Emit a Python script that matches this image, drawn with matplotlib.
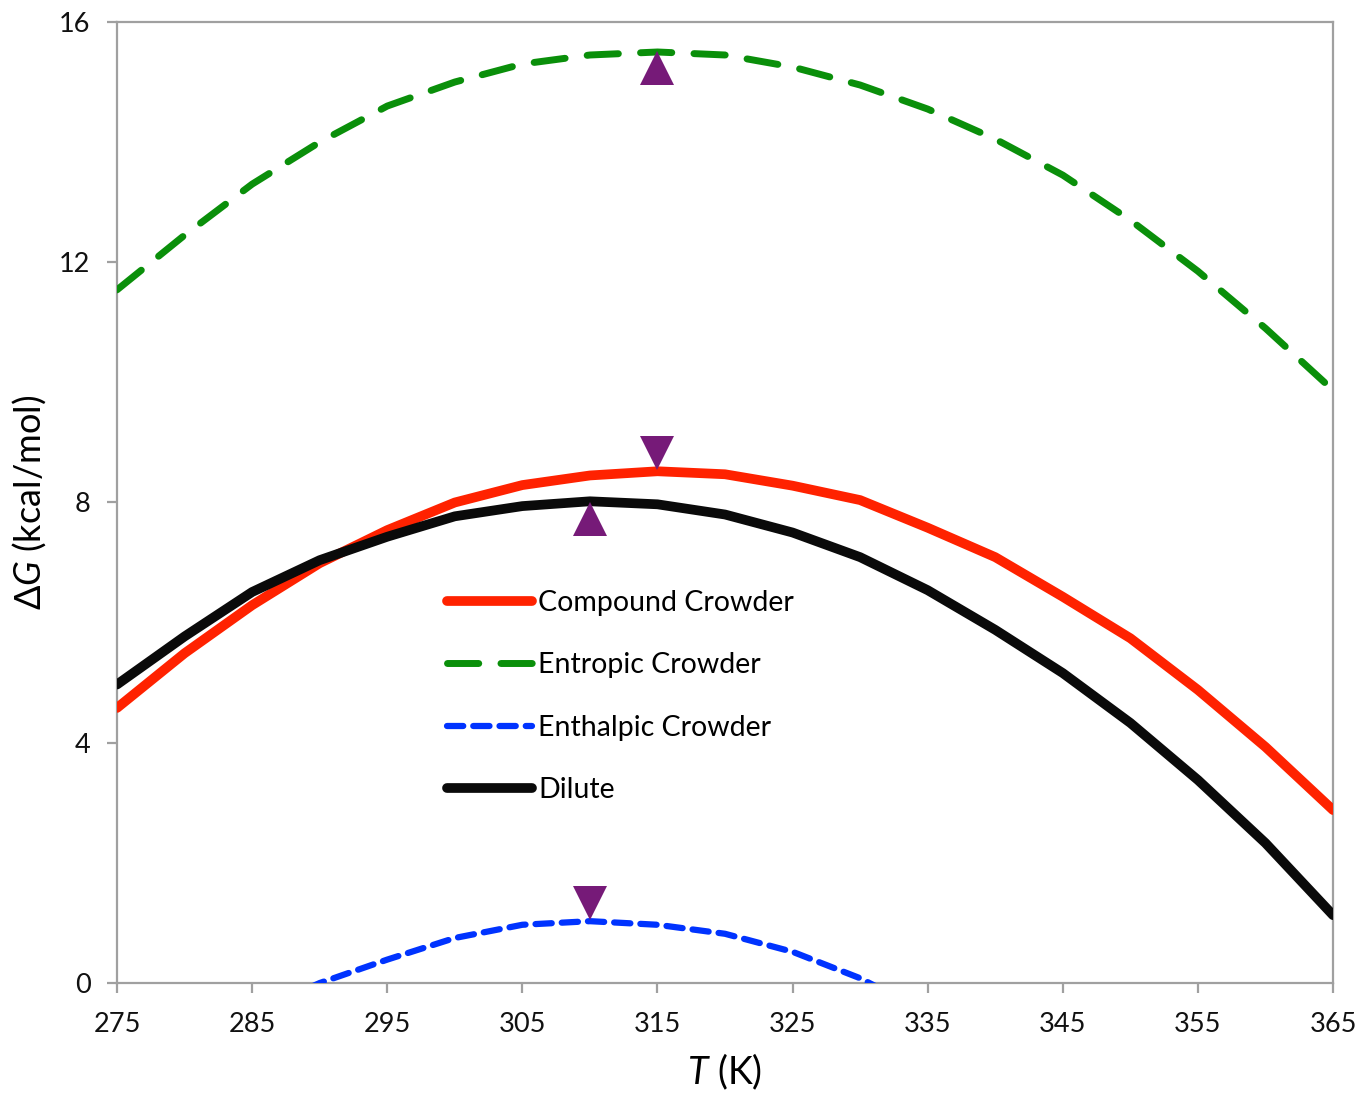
import numpy as np
import matplotlib
matplotlib.use("Agg")
import matplotlib.pyplot as plt

# temperatures (K)
temps = [275, 280, 285, 290, 295, 300, 305, 310, 315, 320,
         325, 330, 335, 340, 345, 350, 355, 360, 365]

# dG (kcal/mol)
compound = [4.58, 5.49, 6.29, 6.99, 7.54, 8.0, 8.29, 8.45, 8.52, 8.47,
            8.28, 8.04, 7.58, 7.09, 6.43, 5.74, 4.88, 3.93, 2.88]
entropic = [11.54, 12.45, 13.3, 14.0, 14.6, 15.0, 15.3, 15.45, 15.5, 15.45,
            15.25, 14.95, 14.55, 14.05, 13.45, 12.7, 11.85, 10.9, 9.87]
enthalpic = [-1.5, -1.0, -0.5, 0.0, 0.39, 0.75, 0.97, 1.03, 0.97, 0.82,
             0.52, 0.08, -0.5, -1.1, -1.8, -2.6, -3.5, -4.5, -5.6]
dilute = [4.97, 5.77, 6.51, 7.04, 7.43, 7.77, 7.94, 8.02, 7.97, 7.8,
          7.5, 7.09, 6.54, 5.88, 5.16, 4.33, 3.38, 2.33, 1.13]

# maxima markers
up_T = [315, 310]
up_G = [15.23, 7.72]
down_T = [315, 310]
down_G = [8.82, 1.33]

labels = ["Compound Crowder", "Entropic Crowder", "Enthalpic Crowder", "Dilute"]

plt.rcParams["font.family"] = ["Lato", "DejaVu Sans"]
plt.rcParams["mathtext.fontset"] = "custom"
plt.rcParams["mathtext.rm"] = "Lato"
plt.rcParams["mathtext.it"] = "Lato:italic"

fig = plt.figure(figsize=(13.59, 10.98), dpi=100)
ax = fig.add_axes([0.0861, 0.1047, 0.8948, 0.8753])

ax.plot(temps, compound, color="#ff2200", lw=7, solid_capstyle="round",
        label=labels[0], zorder=3)
ax.plot(temps, entropic, color="#0a8f0a", lw=5, dashes=(4.5, 3.2),
        dash_capstyle="round", label=labels[1], zorder=3)
ax.plot(temps, enthalpic, color="#0033ff", lw=4.5, dashes=(2.6, 1.6),
        dash_capstyle="round", label=labels[2], zorder=3)
ax.plot(temps, dilute, color="#0a0a0a", lw=7, solid_capstyle="round",
        label=labels[3], zorder=3)

ax.plot(up_T, up_G, linestyle="none", marker="^", ms=24, color="#761a78",
        markeredgewidth=0, zorder=4)
ax.plot(down_T, down_G, linestyle="none", marker="v", ms=24, color="#761a78",
        markeredgewidth=0, zorder=4)

ax.set_xlim(275, 365)
ax.set_ylim(0, 16)
ax.set_xticks(np.arange(275, 366, 10))
ax.set_yticks([0, 4, 8, 12, 16])

for s in ax.spines.values():
    s.set_color("#a0a0a0")
    s.set_linewidth(1.6)
ax.tick_params(axis="both", direction="out", length=7, width=1.6,
               color="#a0a0a0", labelsize=19.5, labelcolor="#111111")
ax.tick_params(axis="x", pad=14)
ax.tick_params(axis="y", pad=12)

ax.set_xlabel(r"$\mathit{T}$ (K)", fontsize=27, labelpad=10)
ax.set_ylabel("Δ" + r"$\mathit{G}$" + " (kcal/mol)", fontsize=26, labelpad=8)

leg = ax.legend(loc="upper left", bbox_to_anchor=(0.262, 0.421), frameon=False,
                fontsize=20.5, handlelength=3.0, handletextpad=0.2,
                labelspacing=1.28, borderaxespad=0)

fig.savefig("out.png", dpi=100)
